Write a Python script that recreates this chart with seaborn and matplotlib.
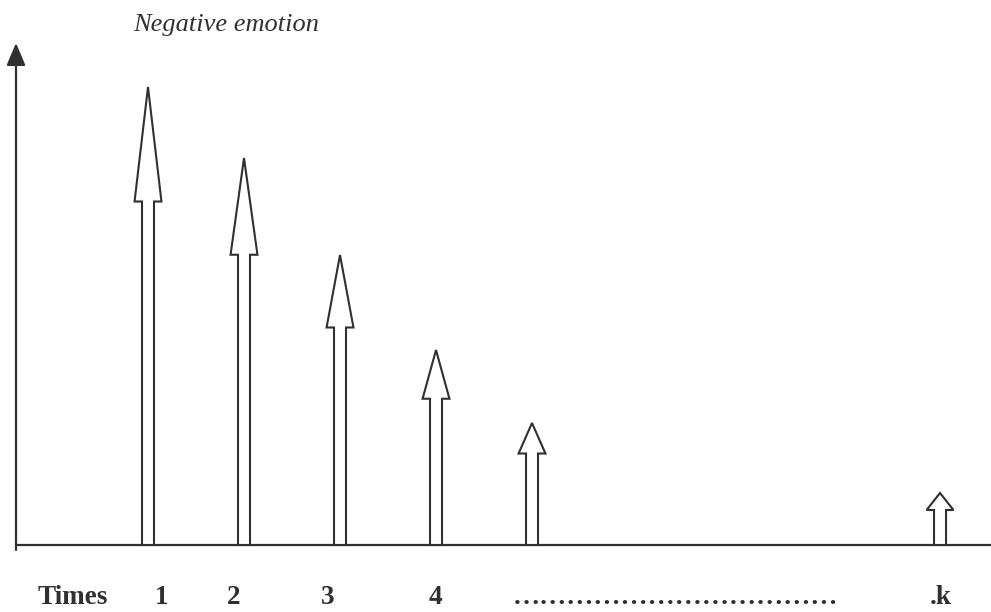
import matplotlib
matplotlib.use("Agg")
import matplotlib.pyplot as plt
import seaborn as sns

# ---- data ----
times = [1, 2, 3, 4, 5, 9.25]               # time steps (last one = k)
emotion = [9.16, 7.74, 5.80, 3.90, 2.44, 1.04]  # negative emotion intensity
tick_labels = ["1", "2", "3", "4", "\u2026" * 12, ".k"]
x_title = "Times"
y_title = "Negative emotion"

sns.set_theme(style="white")
plt.rcParams["font.family"] = ["Liberation Serif", "DejaVu Serif"]

ink = "#303030"
fig = plt.figure(figsize=(9.91, 6.12), dpi=100)
ax = fig.add_axes([0, 0, 1, 1])
ax.set_xlim(-0.5417, 9.781)
ax.set_ylim(-1.34, 10.9)
ax.set_axis_off()

# baseline (x axis)
ax.plot([-0.375, 9.781], [0, 0], color=ink, lw=1.6, solid_capstyle="butt")
# y axis with arrow head
ax.annotate("", xy=(-0.375, 10.04), xytext=(-0.375, -0.1),
            arrowprops=dict(arrowstyle="-|>,head_length=1.37,head_width=0.58",
                            mutation_scale=10, color=ink, lw=1.6,
                            shrinkA=0, shrinkB=0))

# hollow arrows
for t, v in zip(times, emotion):
    ax.arrow(t, 0, 0, v, width=0.125, head_width=0.28,
             head_length=max(0.25 * v, 0.34), length_includes_head=True,
             fc="white", ec=ink, lw=1.5, zorder=3)

# texts
ax.text(0.844, 10.28, y_title, fontsize=19, style="italic", color=ink,
        ha="left", va="baseline")
ax.text(-0.146, -1.19, x_title, fontsize=19.5, weight="bold", color=ink,
        ha="left", va="baseline")
label_x = [1.146, 1.896, 2.875, 3.99, 4.80, 9.26]
label_ha = ["center", "center", "center", "center", "left", "center"]
for lx, lab, ha in zip(label_x, tick_labels, label_ha):
    ax.text(lx, -1.19, lab, fontsize=19.5, weight="bold", color=ink,
            ha=ha, va="baseline")

fig.savefig("out.png", dpi=100)
